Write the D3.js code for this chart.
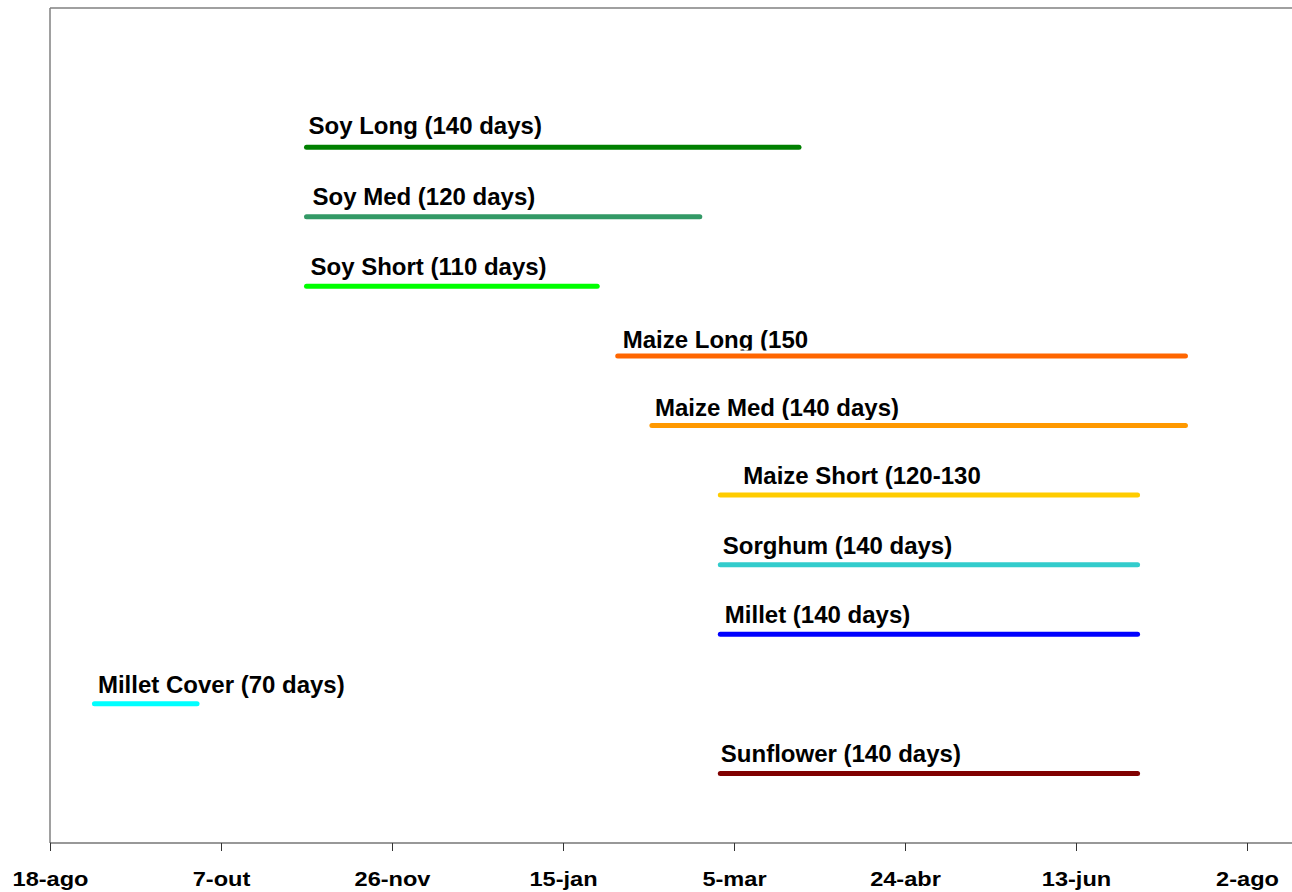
<!DOCTYPE html>
<html>
<head>
<meta charset="utf-8">
<script src="https://cdn.jsdelivr.net/npm/d3@7/dist/d3.min.js"></script>
<style>
  html, body { margin: 0; padding: 0; background: #fff; }
  svg { display: block; }
</style>
</head>
<body>
<script>
// Crop cycle windows, one row per crop (row 10 at the top, row 1 at the bottom)
const crops = [
  "Soy Long (140 days)", "Soy Med (120 days)", "Soy Short (110 days)",
  "Maize Long (150", "Maize Med (140 days)", "Maize Short (120-130",
  "Sorghum (140 days)", "Millet (140 days)", "Millet Cover (70 days)",
  "Sunflower (140 days)"
];
const rows = [10, 9, 8, 7, 6, 5, 4, 3, 2, 1];
const startDates = [
  "2003-11-01", "2003-11-01", "2003-11-01",
  "2004-01-31", "2004-02-10", "2004-03-01",
  "2004-03-01", "2004-03-01", "2003-08-31",
  "2004-03-01"
];
const endDates = [
  "2004-03-24", "2004-02-24", "2004-01-25",
  "2004-07-15", "2004-07-15", "2004-07-01",
  "2004-07-01", "2004-07-01", "2003-09-30",
  "2004-07-01"
];
const colors = [
  "#008000", "#339966", "#00ff00",
  "#ff6600", "#ff9900", "#ffcc00",
  "#33cccc", "#0000ff", "#00ffff",
  "#800000"
];

// Axis ticks, every 50 days
const tickDates = [
  "2003-08-18", "2003-10-07", "2003-11-26", "2004-01-15",
  "2004-03-05", "2004-04-24", "2004-06-13", "2004-08-02"
];
const tickLabels = ["18-ago", "7-out", "26-nov", "15-jan", "5-mar", "24-abr", "13-jun", "2-ago"];

// Label placement relative to the start of each bar (px)
const labelDx = [2, 6, 4, 5, 3, 23, 2.5, 4.5, 3.5, 0.5];
const labelDy = [-13, -12, -11, -8.3, -10, -11, -11, -11, -11, -11];

const W = 1292, H = 892;
const parse = d3.utcParse("%Y-%m-%d");

const svg = d3.select("body").append("svg")
  .attr("width", W).attr("height", H)
  .style("font-family", "'Liberation Sans', Arial, sans-serif");

const x = d3.scaleUtc()
  .domain([parse(tickDates[0]), parse(tickDates[tickDates.length - 1])])
  .range([50, 1247]);

const y = d3.scaleLinear().domain([0, 12]).range([843, 8]);

const xEnd = x(d3.utcDay.offset(parse(tickDates[0]), 365));

// Frame: left and top edges
svg.append("line")
  .attr("x1", 50).attr("x2", 50).attr("y1", y(12)).attr("y2", y(0))
  .attr("stroke", "#808080").attr("stroke-width", 1.5);
svg.append("line")
  .attr("x1", 50).attr("x2", xEnd).attr("y1", y(12)).attr("y2", y(12))
  .attr("stroke", "#808080").attr("stroke-width", 1.5);

// Bottom axis
const axis = svg.append("g")
  .attr("transform", `translate(0,${y(0)})`)
  .call(d3.axisBottom(x)
    .tickValues(tickDates.map(parse))
    .tickFormat((d, i) => tickLabels[i])
    .tickSize(8)
    .tickPadding(4)
    .tickSizeOuter(0));
axis.select(".domain")
  .attr("d", `M50,0H${xEnd}`)
  .attr("stroke", "#333").attr("stroke-width", 1.2);
axis.selectAll(".tick line").attr("stroke", "#333").attr("stroke-width", 1);
axis.selectAll(".tick text")
  .attr("fill", "#000")
  .attr("font-family", "'Liberation Sans', Arial, sans-serif")
  .attr("font-weight", "bold")
  .attr("font-size", 20.5)
  .attr("dy", null)
  .attr("y", 43)
  .attr("transform", "scale(1.15,1)");

const data = crops.map((name, i) => ({
  name, row: rows[i], start: parse(startDates[i]), end: parse(endDates[i]),
  color: colors[i], dx: labelDx[i], dy: labelDy[i]
}));

// Bars
svg.append("g").selectAll("line")
  .data(data).join("line")
  .attr("x1", d => x(d.start)).attr("x2", d => x(d.end))
  .attr("y1", d => y(d.row)).attr("y2", d => y(d.row))
  .attr("stroke", d => d.color)
  .attr("stroke-width", 5)
  .attr("stroke-linecap", "round");

// Label boxes cut their text just above the bar
const defs = svg.append("defs");
data.forEach((d, i) => {
  defs.append("clipPath").attr("id", "lbl" + i)
    .append("rect")
    .attr("x", 0).attr("width", W)
    .attr("y", y(d.row) - 60).attr("height", 60 - 5.5);
});

svg.append("g").selectAll("text")
  .data(data).join("text")
  .attr("clip-path", (d, i) => `url(#lbl${i})`)
  .attr("x", d => x(d.start) + d.dx)
  .attr("y", d => y(d.row) + d.dy)
  .attr("font-size", 24)
  .attr("font-weight", "bold")
  .attr("fill", "#000")
  .text(d => d.name);
</script>
</body>
</html>
